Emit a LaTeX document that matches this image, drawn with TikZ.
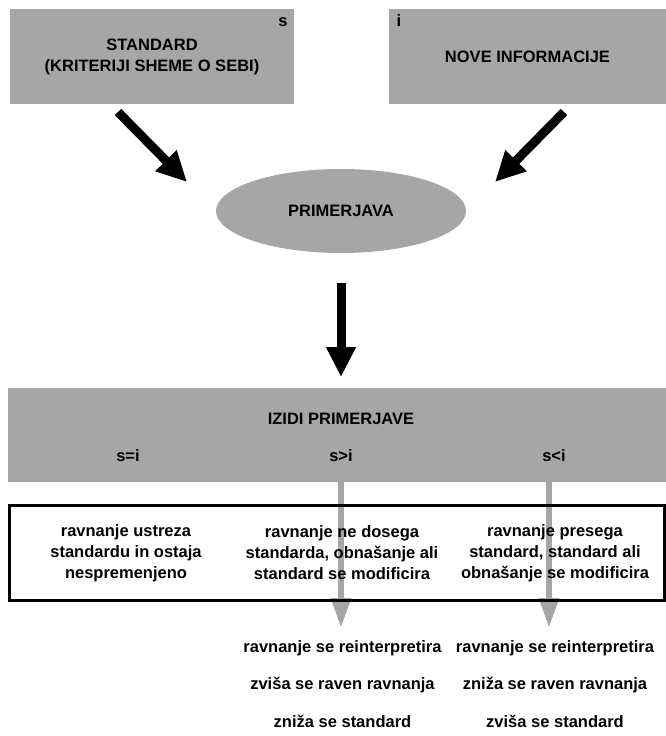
\documentclass[tikz,border=0pt]{standalone}
\usepackage{fontspec}
\setmainfont{Liberation Sans}
\usetikzlibrary{arrows.meta,shapes.geometric}
\definecolor{boxgrey}{HTML}{A6A6A6}

\begin{document}
\begin{tikzpicture}[x=1pt,y=-1pt,font=\fontsize{16.5}{21}\selectfont\bfseries,
  greybox/.style={fill=boxgrey,draw=none,inner sep=0pt,align=center},
  bigarrow/.style={line width=9pt,-{Triangle[width=28pt,length=30pt]}},
  greyarrow/.style={boxgrey,line width=6pt,-{Triangle[width=19pt,length=30pt]}},
  coltext/.style={align=center,inner sep=0pt}]
\useasboundingbox (0,0) rectangle (666,736);
% upper boxes
\node[greybox,minimum width=284pt,minimum height=95pt] (std) at (152,56.5) {STANDARD\\(KRITERIJI SHEME O SEBI)};
\node[greybox,minimum width=277pt,minimum height=95pt] (info) at (527.5,56.5) {NOVE INFORMACIJE};
\node (s) at (283,22) {s};
\node (i) at (399,21) {i};
% comparison
\node[greybox,ellipse,minimum width=250pt,minimum height=84pt] (cmp) at (341,211) {PRIMERJAVA};
\coordinate (l0) at (118,112);
\coordinate (l1) at (187,182);
\coordinate (r0) at (564,112);
\coordinate (r1) at (495,182);
\coordinate (d0) at (341,283);
\coordinate (d1) at (341,377);
\draw[bigarrow] (l0) -- (l1);
\draw[bigarrow] (r0) -- (r1);
\draw[bigarrow] (d0) -- (d1);
% results
\node[greybox,minimum width=658pt,minimum height=94pt] (res) at (337,435) {};
\node (restitle) at (341,419) {IZIDI PRIMERJAVE};
\node (eq) at (128,456) {s=i};
\node (gt) at (341,456) {s>i};
\node (lt) at (554,456) {s<i};
\coordinate (a0) at (341,482);
\coordinate (a1) at (341,628);
\coordinate (b0) at (549,482);
\coordinate (b1) at (549,628);
\draw[greyarrow] (a0) -- (a1);
\draw[greyarrow] (b0) -- (b1);
\node[draw,line width=3pt,minimum width=655pt,minimum height=95pt,inner sep=0pt] (frame) at (336.5,552.5) {};
\node[coltext] (c1) at (126,553) {ravnanje ustreza\\standardu in ostaja\\nespremenjeno};
\node[coltext] (c2) at (342,553) {ravnanje ne dosega\\standarda, obnašanje ali\\standard se modificira};
\node[coltext] (c3) at (555,553) {ravnanje presega\\standard, standard ali\\obnašanje se modificira};
% consequences
\node (g1) at (342.5,648) {ravnanje se reinterpretira};
\node (g2) at (342.5,685) {zviša se raven ravnanja};
\node (g3) at (342.5,721) {zniža se standard};
\node (h1) at (555,648) {ravnanje se reinterpretira};
\node (h2) at (555,685) {zniža se raven ravnanja};
\node (h3) at (555,721) {zviša se standard};
\end{tikzpicture}
\end{document}
